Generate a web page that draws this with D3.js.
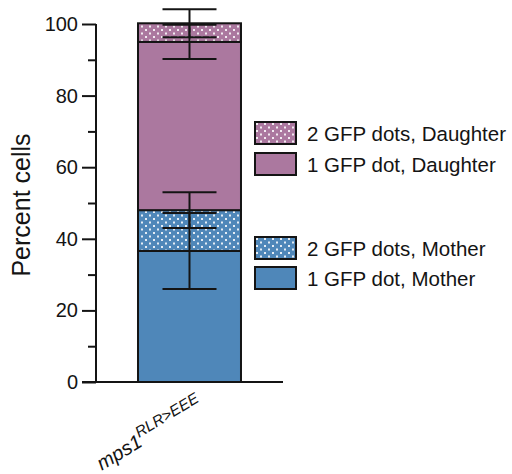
<!DOCTYPE html>
<html>
<head>
<meta charset="utf-8">
<script src="https://cdn.jsdelivr.net/npm/d3@7"></script>
<style>
  html, body { margin: 0; padding: 0; background: #fff; }
  svg { display: block; font-family: "Liberation Sans", Arial, sans-serif; }
</style>
</head>
<body>
<svg id="chart" width="512" height="474"></svg>
<script>
// Stacked percentages for one strain, bottom segment first
const categories = ["mps1"];
const seriesNames = ["1 GFP dot, Mother", "2 GFP dots, Mother", "1 GFP dot, Daughter", "2 GFP dots, Daughter"];
const seriesValues = [36.6, 11.4, 47.0, 5.2];
const seriesErrors = [10.6, 5.0, 4.8, 3.9];
const majorTicks = [0, 20, 40, 60, 80, 100];
const minorTicks = [10, 30, 50, 70, 90];
const legendOrder = ["2 GFP dots, Daughter", "1 GFP dot, Daughter", "2 GFP dots, Mother", "1 GFP dot, Mother"];

const blue = "#4f87b9";
const purple = "#ab789f";
const ink = "#141414";
const fills = {
  "1 GFP dot, Mother": blue,
  "2 GFP dots, Mother": "url(#dots-blue)",
  "1 GFP dot, Daughter": purple,
  "2 GFP dots, Daughter": "url(#dots-purple)"
};

const svg = d3.select("#chart");

// Dotted fills for the "2 GFP dots" segments
const defs = svg.append("defs");
[["dots-blue", blue], ["dots-purple", purple]].forEach(([id, col]) => {
  const p = defs.append("pattern").attr("id", id)
    .attr("patternUnits", "userSpaceOnUse").attr("width", 8).attr("height", 7);
  p.append("rect").attr("width", 8).attr("height", 7).attr("fill", col);
  p.append("rect").attr("x", 1).attr("y", 1).attr("width", 2).attr("height", 2).attr("fill", "#fff").attr("opacity", 0.85);
  p.append("rect").attr("x", 5).attr("y", 4.5).attr("width", 2).attr("height", 2).attr("fill", "#fff").attr("opacity", 0.85);
});

const y = d3.scaleLinear().domain([0, 100]).range([382, 24]);
const x = d3.scaleBand().domain(categories).range([96, 283]).paddingInner(0).paddingOuter(0.408);

// Stack the segments
let acc = 0;
const segs = seriesNames.map((name, i) => {
  const s = { name, y0: acc, y1: acc + seriesValues[i], err: seriesErrors[i] };
  acc += seriesValues[i];
  return s;
});

const cat = categories[0];
svg.append("g").selectAll("rect").data(segs).join("rect")
  .attr("x", x(cat))
  .attr("width", x.bandwidth())
  .attr("y", d => y(d.y1))
  .attr("height", d => y(d.y0) - y(d.y1))
  .attr("fill", d => fills[d.name])
  .attr("stroke", ink)
  .attr("stroke-width", 2);

// Error bars at the top of each segment
const cx = x(cat) + x.bandwidth() / 2;
const capHalf = 27;
const eb = svg.append("g").attr("stroke", ink).attr("stroke-width", 2);
segs.forEach(d => {
  eb.append("line").attr("x1", cx).attr("x2", cx).attr("y1", y(d.y1 - d.err)).attr("y2", y(d.y1 + d.err));
  eb.append("line").attr("x1", cx - capHalf).attr("x2", cx + capHalf).attr("y1", y(d.y1 - d.err)).attr("y2", y(d.y1 - d.err));
  eb.append("line").attr("x1", cx - capHalf).attr("x2", cx + capHalf).attr("y1", y(d.y1 + d.err)).attr("y2", y(d.y1 + d.err));
});

// Y axis: major ticks with labels, minor ticks without
const yAxis = svg.append("g").attr("transform", "translate(96,0)")
  .call(d3.axisLeft(y).tickValues(majorTicks).tickSize(14).tickPadding(4).tickFormat(d3.format("d")));
yAxis.selectAll("path, line").attr("stroke", ink).attr("stroke-width", 2);
yAxis.select(".domain").attr("d", `M0,${y(100)}V${y(0)}`);
yAxis.selectAll("text").attr("font-size", 20).attr("fill", ink)
  .attr("font-family", "'Liberation Sans', Arial, sans-serif");

const yMinor = svg.append("g").attr("transform", "translate(96,0)")
  .call(d3.axisLeft(y).tickValues(minorTicks).tickSize(8).tickFormat(""));
yMinor.select(".domain").remove();
yMinor.selectAll("line").attr("stroke", ink).attr("stroke-width", 2);

// Baseline
svg.append("line").attr("x1", 82).attr("x2", x.range()[1]).attr("y1", y(0)).attr("y2", y(0))
  .attr("stroke", ink).attr("stroke-width", 2);

// Y axis title
svg.append("text")
  .attr("transform", `translate(30,${(y(0) + y(100)) / 2 + 2}) rotate(-90)`)
  .attr("text-anchor", "middle")
  .attr("font-size", 25)
  .attr("fill", ink)
  .text("Percent cells");

// Category label, rotated, with superscript allele
const xl = svg.append("text")
  .attr("transform", `translate(${cx + 15},409) rotate(-31)`)
  .attr("text-anchor", "end")
  .attr("font-style", "italic")
  .attr("fill", ink);
xl.append("tspan").attr("font-size", 20).text("mps1");
xl.append("tspan").attr("font-size", 15.5).attr("dy", -9).text("RLR>EEE");

// Legend
const legendY = { "2 GFP dots, Daughter": 122, "1 GFP dot, Daughter": 153, "2 GFP dots, Mother": 237, "1 GFP dot, Mother": 267 };
const lg = svg.append("g").selectAll("g").data(legendOrder).join("g")
  .attr("transform", d => `translate(255,${legendY[d]})`);
lg.append("rect").attr("width", 41).attr("height", 22)
  .attr("fill", d => fills[d]).attr("stroke", ink).attr("stroke-width", 2);
lg.append("text").attr("x", 52).attr("y", 19).attr("font-size", 20.5).attr("fill", ink).text(d => d);
</script>
</body>
</html>
